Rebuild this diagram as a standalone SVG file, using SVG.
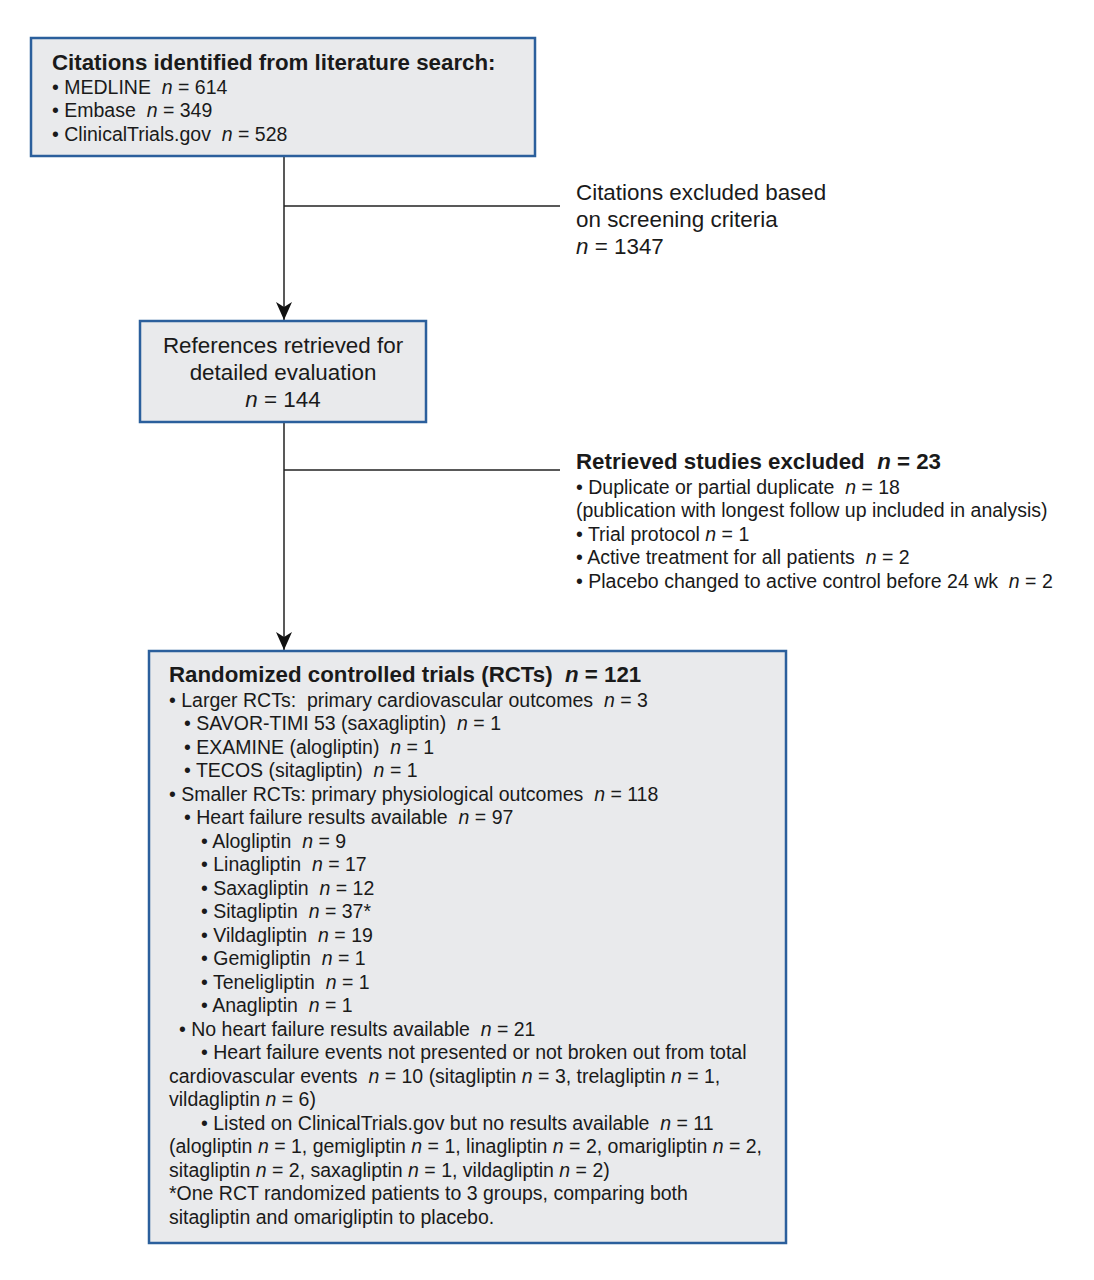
<svg xmlns="http://www.w3.org/2000/svg" width="1094" height="1280" viewBox="0 0 1094 1280" xml:space="preserve">
<defs>
<style>
.box{fill:#e9eaec;stroke:#2b5f9c;stroke-width:2.5}
text{font-family:"Liberation Sans",Arial,sans-serif;fill:#1a1a1a;font-size:19.5px;white-space:pre}
.t{font-size:22.3px;font-weight:bold}
.m{font-size:22.4px}
.i{font-style:italic}
.c{text-anchor:middle}
.ln{stroke:#222;stroke-width:1.5;fill:none}
</style>
<marker id="ah" viewBox="0 0 18 16" refX="18" refY="8" markerWidth="18" markerHeight="16" markerUnits="userSpaceOnUse" orient="auto">
<path d="M0,0 L18,8 L0,16 L5,8 Z" fill="#111"/>
</marker>
</defs>
<rect width="1094" height="1280" fill="#fff"/>
<g id="connectors">
<line class="ln" x1="284" y1="157" x2="284" y2="320" marker-end="url(#ah)"/>
<line class="ln" x1="284" y1="206" x2="560" y2="206"/>
<line class="ln" x1="284" y1="423" x2="284" y2="650" marker-end="url(#ah)"/>
<line class="ln" x1="284" y1="470" x2="560" y2="470"/>
</g>
<g id="search">
<rect class="box" x="31" y="38" width="504" height="118"/>
<text class="t" x="52" y="70">Citations identified from literature search:</text>
<text x="52" y="94">• MEDLINE  <tspan class="i">n</tspan> = 614</text>
<text x="52" y="117">• Embase  <tspan class="i">n</tspan> = 349</text>
<text x="52" y="141">• ClinicalTrials.gov  <tspan class="i">n</tspan> = 528</text>
</g>
<g id="excluded1">
<text class="m" x="576" y="200">Citations excluded based</text>
<text class="m" x="576" y="227">on screening criteria</text>
<text class="m" x="576" y="254"><tspan class="i">n</tspan> = 1347</text>
</g>
<g id="retrieved">
<rect class="box" x="140" y="321" width="286" height="101"/>
<text class="m c" x="283" y="353">References retrieved for</text>
<text class="m c" x="283" y="380">detailed evaluation</text>
<text class="m c" x="283" y="407"><tspan class="i">n</tspan> = 144</text>
</g>
<g id="excluded2">
<text class="t" x="576" y="469">Retrieved studies excluded  <tspan class="i">n</tspan> = 23</text>
<text x="576" y="494">• Duplicate or partial duplicate  <tspan class="i">n</tspan> = 18</text>
<text x="576" y="517">(publication with longest follow up included in analysis)</text>
<text x="576" y="541">• Trial protocol <tspan class="i">n</tspan> = 1</text>
<text x="576" y="564">• Active treatment for all patients  <tspan class="i">n</tspan> = 2</text>
<text x="576" y="588">• Placebo changed to active control before 24 wk  <tspan class="i">n</tspan> = 2</text>
</g>
<g id="rcts">
<rect class="box" x="149" y="651" width="637" height="592"/>
<text class="t" x="169" y="682">Randomized controlled trials (RCTs)  <tspan class="i">n</tspan> = 121</text>
<text x="169" y="707">• Larger RCTs:  primary cardiovascular outcomes  <tspan class="i">n</tspan> = 3</text>
<text x="184" y="730">• SAVOR-TIMI 53 (saxagliptin)  <tspan class="i">n</tspan> = 1</text>
<text x="184" y="754">• EXAMINE (alogliptin)  <tspan class="i">n</tspan> = 1</text>
<text x="184" y="777">• TECOS (sitagliptin)  <tspan class="i">n</tspan> = 1</text>
<text x="169" y="801">• Smaller RCTs: primary physiological outcomes  <tspan class="i">n</tspan> = 118</text>
<text x="184" y="824">• Heart failure results available  <tspan class="i">n</tspan> = 97</text>
<text x="201" y="848">• Alogliptin  <tspan class="i">n</tspan> = 9</text>
<text x="201" y="871">• Linagliptin  <tspan class="i">n</tspan> = 17</text>
<text x="201" y="895">• Saxagliptin  <tspan class="i">n</tspan> = 12</text>
<text x="201" y="918">• Sitagliptin  <tspan class="i">n</tspan> = 37*</text>
<text x="201" y="942">• Vildagliptin  <tspan class="i">n</tspan> = 19</text>
<text x="201" y="965">• Gemigliptin  <tspan class="i">n</tspan> = 1</text>
<text x="201" y="989">• Teneligliptin  <tspan class="i">n</tspan> = 1</text>
<text x="201" y="1012">• Anagliptin  <tspan class="i">n</tspan> = 1</text>
<text x="179" y="1036">• No heart failure results available  <tspan class="i">n</tspan> = 21</text>
<text x="201" y="1059">• Heart failure events not presented or not broken out from total</text>
<text x="169" y="1083">cardiovascular events  <tspan class="i">n</tspan> = 10 (sitagliptin <tspan class="i">n</tspan> = 3, trelagliptin <tspan class="i">n</tspan> = 1,</text>
<text x="169" y="1106">vildagliptin <tspan class="i">n</tspan> = 6)</text>
<text x="201" y="1130">• Listed on ClinicalTrials.gov but no results available  <tspan class="i">n</tspan> = 11</text>
<text x="169" y="1153">(alogliptin <tspan class="i">n</tspan> = 1, gemigliptin <tspan class="i">n</tspan> = 1, linagliptin <tspan class="i">n</tspan> = 2, omarigliptin <tspan class="i">n</tspan> = 2,</text>
<text x="169" y="1177">sitagliptin <tspan class="i">n</tspan> = 2, saxagliptin <tspan class="i">n</tspan> = 1, vildagliptin <tspan class="i">n</tspan> = 2)</text>
<text x="169" y="1200">*One RCT randomized patients to 3 groups, comparing both</text>
<text x="169" y="1224">sitagliptin and omarigliptin to placebo.</text>
</g>
</svg>
